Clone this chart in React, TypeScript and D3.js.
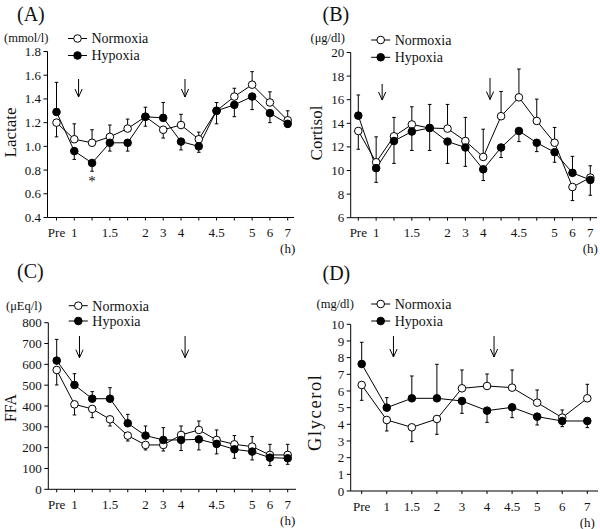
import React from 'react';
import * as d3 from 'd3';

const FONT = "'Liberation Serif','Times New Roman',Times,serif";

// Time points
const timeKeys14 = ['Pre', '1', '1.25', '1.5', '1.75', '2', '3', '4', '4.25', '4.5', '4.75', '5', '6', '7'];
const timeLabels14 = ['Pre', '1', '', '1.5', '', '2', '3', '4', '', '4.5', '', '5', '6', '7'];
const timeKeys10 = ['Pre', '1', '1.5', '2', '3', '4', '4.5', '5', '6', '7'];
const timeLabels10 = ['Pre', '1', '1.5', '2', '3', '4', '4.5', '5', '6', '7'];

// (A) Lactate
const lactateTicks = [0.4, 0.6, 0.8, 1.0, 1.2, 1.4, 1.6, 1.8];
const lactateNormoxia = [1.20, 1.06, 1.03, 1.08, 1.15, 1.25, 1.14, 1.18, 1.06, 1.30, 1.42, 1.52, 1.37, 1.22];
const lactateNormoxiaErr = [1.08, 1.19, 1.14, 1.18, 1.23, 1.33, 1.07, 1.27, 1.12, 1.37, 1.49, 1.63, 1.46, 1.30];
const lactateHypoxia = [1.29, 0.96, 0.86, 1.03, 1.03, 1.25, 1.24, 1.04, 1.00, 1.30, 1.35, 1.42, 1.28, 1.19];
const lactateHypoxiaErr = [1.54, 0.89, 0.79, 0.96, 0.96, 1.17, 1.37, 0.97, 0.95, 1.19, 1.25, 1.31, 1.20, 1.16];

// (B) Cortisol
const cortisolTicks = [6, 8, 10, 12, 14, 16, 18, 20];
const cortisolNormoxia = [13.35, 10.7, 12.9, 13.9, 13.6, 13.55, 12.5, 11.15, 14.6, 16.2, 14.2, 12.35, 8.6, 9.4];
const cortisolNormoxiaErr = [11.8, 12.85, 14.5, 15.4, 15.6, 15.6, 14.5, 13.5, 16.7, 18.6, 16.05, 13.65, 7.45, 10.4];
const cortisolHypoxia = [14.65, 10.2, 12.5, 13.3, 13.6, 12.45, 11.95, 10.1, 11.95, 13.35, 12.35, 11.55, 9.8, 9.2];
const cortisolHypoxiaErr = [16.4, 9.0, 10.6, 11.7, 11.7, 10.6, 10.35, 9.15, 11.1, 12.45, 11.6, 10.7, 11.2, 7.9];

// (C) FFA
const ffaTicks = [0, 100, 200, 300, 400, 500, 600, 700, 800];
const ffaNormoxia = [573, 408, 386, 336, 258, 213, 213, 261, 285, 237, 216, 205, 165, 165];
const ffaNormoxiaErr = [501, 357, 344, 304, 232, 189, 184, 304, 328, 285, 258, 253, 216, 216];
const ffaHypoxia = [618, 501, 435, 435, 317, 258, 237, 237, 240, 218, 192, 181, 152, 149];
const ffaHypoxiaErr = [720, 555, 469, 488, 360, 304, 296, 186, 189, 170, 149, 141, 114, 120];

// (D) Glycerol
const glycerolTicks = [0, 1, 2, 3, 4, 5, 6, 7, 8, 9, 10];
const glycerolNormoxia = [6.36, 4.26, 3.82, 4.32, 6.16, 6.3, 6.2, 5.3, 4.4, 5.56];
const glycerolNormoxiaErr = [5.44, 3.6, 2.96, 3.4, 7.26, 7.02, 7.26, 6.06, 4.86, 6.4];
const glycerolHypoxia = [7.62, 5.0, 5.56, 5.56, 5.4, 4.82, 5.02, 4.46, 4.2, 4.2];
const glycerolHypoxiaErr = [8.92, 5.6, 6.9, 7.6, 4.66, 4.12, 4.4, 3.96, 3.86, 3.8];

const panels = [
  {
    tag: '(A)', tagX: 17, tagY: 21, unit: '(mmol/l)', unitX: 4, unitY: 37.5,
    yLabel: 'Lactate', yLabelX: 15.5, yLabelY: 132.5, yLabelLen: 0, yLabelSize: 17, yLabelAdj: '',
    axisX: 47.5, x0: 56.5, x1: 287.7, axisEnd: 294, yTop: 51.5, yBottom: 217.5,
    domain: [0.4, 1.8], ticks: lactateTicks, fmt: d3.format('.1f'),
    keys: timeKeys14, labels: timeLabels14,
    norm: lactateNormoxia, normErr: lactateNormoxiaErr, hyp: lactateHypoxia, hypErr: lactateHypoxiaErr,
    arrows: [{ at: '1', dx: 4.3, y0: 79, y1: 97 }, { at: '4', dx: 4, y0: 79, y1: 97 }],
    legendY: [38.5, 55.5], star: { at: '1.25', y: 186 },
  },
  {
    tag: '(B)', tagX: 322.5, tagY: 21, unit: '(μg/dl)', unitX: 310.5, unitY: 38,
    yLabel: 'Cortisol', yLabelX: 322, yLabelY: 133, yLabelLen: 0, yLabelSize: 17, yLabelAdj: '',
    axisX: 350.7, x0: 358.3, x1: 590.3, axisEnd: 597, yTop: 52.5, yBottom: 217.7,
    domain: [6, 20], ticks: cortisolTicks, fmt: d3.format('d'),
    keys: timeKeys14, labels: timeLabels14,
    norm: cortisolNormoxia, normErr: cortisolNormoxiaErr, hyp: cortisolHypoxia, hypErr: cortisolHypoxiaErr,
    arrows: [{ at: '1', dx: 6, y0: 84, y1: 100 }, { at: '4', dx: 6.8, y0: 78, y1: 99.5 }],
    legendY: [40, 57.3], star: null,
  },
  {
    tag: '(C)', tagX: 17, tagY: 278, unit: '(μEq/l)', unitX: 6, unitY: 305.2,
    yLabel: 'FFA', yLabelX: 15.5, yLabelY: 408, yLabelLen: 28, yLabelSize: 17, yLabelAdj: 'spacingAndGlyphs',
    axisX: 48.3, x0: 56.7, x1: 287.7, axisEnd: 296, yTop: 322.7, yBottom: 489.3,
    domain: [0, 800], ticks: ffaTicks, fmt: d3.format('d'),
    keys: timeKeys14, labels: timeLabels14,
    norm: ffaNormoxia, normErr: ffaNormoxiaErr, hyp: ffaHypoxia, hypErr: ffaHypoxiaErr,
    arrows: [{ at: '1', dx: 5, y0: 336, y1: 357.7 }, { at: '4', dx: 4, y0: 336, y1: 357.7 }],
    legendY: [305.7, 321], star: null,
  },
  {
    tag: '(D)', tagX: 322.5, tagY: 280, unit: '(mg/dl)', unitX: 316.5, unitY: 303.5,
    yLabel: 'Glycerol', yLabelX: 321, yLabelY: 413, yLabelLen: 76, yLabelSize: 18.5, yLabelAdj: 'spacing',
    axisX: 350.7, x0: 361.7, x1: 587.3, axisEnd: 598, yTop: 324.3, yBottom: 491,
    domain: [0, 10], ticks: glycerolTicks, fmt: d3.format('d'),
    keys: timeKeys10, labels: timeLabels10,
    norm: glycerolNormoxia, normErr: glycerolNormoxiaErr, hyp: glycerolHypoxia, hypErr: glycerolHypoxiaErr,
    arrows: [{ at: '1', dx: 6.7, y0: 336, y1: 357 }, { at: '4', dx: 7, y0: 336, y1: 357 }],
    legendY: [304, 321], star: null,
  },
];

function Panel({ p }: { p: any }) {
  const x = d3.scalePoint<string>().domain(p.keys).range([p.x0, p.x1]);
  const y = d3.scaleLinear().domain(p.domain).range([p.yBottom, p.yTop]);
  const line = d3.line<number>().x((_, i) => x(p.keys[i])!).y((d) => y(d));
  const r = 3.8;
  const cap = 1.8;
  const errBars = (vals: number[], tips: number[], key: string) =>
    vals.map((v, i) => {
      const cx = x(p.keys[i])!;
      return (
        <g key={key + i}>
          <line x1={cx} x2={cx} y1={y(v)} y2={y(tips[i])} stroke="#000" strokeWidth={1} />
          <line x1={cx - cap} x2={cx + cap} y1={y(tips[i])} y2={y(tips[i])} stroke="#000" strokeWidth={1} />
        </g>
      );
    });
  const lx = p.axisX + 30;
  return (
    <g fontFamily={FONT} fill="#111">
      <text x={p.tagX} y={p.tagY} fontSize={20}>{p.tag}</text>
      <text x={p.unitX} y={p.unitY} dy="0.35em" fontSize={12.5}>{p.unit}</text>
      <text
        transform={`translate(${p.yLabelX},${p.yLabelY}) rotate(-90)`}
        textAnchor="middle" fontSize={p.yLabelSize}
        {...(p.yLabelLen ? { textLength: p.yLabelLen, lengthAdjust: p.yLabelAdj } : {})}
      >{p.yLabel}</text>
      {/* legend */}
      <line x1={lx - 9.5} x2={lx + 9.5} y1={p.legendY[0]} y2={p.legendY[0]} stroke="#000" />
      <circle cx={lx} cy={p.legendY[0]} r={r} fill="#fff" stroke="#000" />
      <text x={p.axisX + 44} y={p.legendY[0]} dy="0.35em" fontSize={14}>Normoxia</text>
      <line x1={lx - 9.5} x2={lx + 9.5} y1={p.legendY[1]} y2={p.legendY[1]} stroke="#000" />
      <circle cx={lx} cy={p.legendY[1]} r={r} fill="#000" stroke="#000" />
      <text x={p.axisX + 44} y={p.legendY[1]} dy="0.35em" fontSize={14}>Hypoxia</text>
      {/* axes */}
      <line x1={p.axisX} x2={p.axisX} y1={y(p.domain[1])} y2={p.yBottom} stroke="#000" strokeWidth={1} />
      <line x1={p.axisX} x2={p.axisEnd} y1={p.yBottom} y2={p.yBottom} stroke="#000" strokeWidth={1} />
      {p.ticks.map((t: number) => (
        <g key={'yt' + t}>
          <line x1={p.axisX - 4} x2={p.axisX} y1={y(t)} y2={y(t)} stroke="#000" />
          <text x={p.axisX - 6.5} y={y(t)} dy="0.35em" textAnchor="end" fontSize={13}>{p.fmt(t)}</text>
        </g>
      ))}
      {p.keys.map((k: string, i: number) => (
        <g key={'xt' + k}>
          <line x1={x(k)} x2={x(k)} y1={p.yBottom} y2={p.yBottom + 3} stroke="#000" />
          {p.labels[i] && (
            <text x={x(k)} y={p.yBottom + 15} dy="0.35em" textAnchor="middle" fontSize={13}>{p.labels[i]}</text>
          )}
        </g>
      ))}
      <text x={p.x1} y={p.yBottom + 31} dy="0.35em" textAnchor="middle" fontSize={13}>(h)</text>
      {/* arrows */}
      {p.arrows.map((a: any, i: number) => {
        const ax = x(a.at)! + a.dx;
        return (
          <g key={'ar' + i} stroke="#000" strokeWidth={1} fill="none">
            <line x1={ax} x2={ax} y1={a.y0} y2={a.y1} />
            <polyline points={`${ax - 3.6},${a.y1 - 8} ${ax},${a.y1} ${ax + 3.6},${a.y1 - 8}`} />
          </g>
        );
      })}
      {p.star && (
        <text x={x(p.star.at)} y={p.star.y} textAnchor="middle" fontSize={15} fill="#111">*</text>
      )}
      {/* error bars */}
      {errBars(p.norm, p.normErr, 'ne')}
      {errBars(p.hyp, p.hypErr, 'he')}
      {/* lines */}
      <path d={line(p.norm)!} fill="none" stroke="#000" strokeWidth={1} />
      <path d={line(p.hyp)!} fill="none" stroke="#000" strokeWidth={1} />
      {/* markers */}
      {p.norm.map((v: number, i: number) => (
        <circle key={'nc' + i} cx={x(p.keys[i])} cy={y(v)} r={r} fill="#fff" stroke="#000" strokeWidth={1} />
      ))}
      {p.hyp.map((v: number, i: number) => (
        <circle key={'hc' + i} cx={x(p.keys[i])} cy={y(v)} r={r} fill="#000" stroke="#000" strokeWidth={1} />
      ))}
    </g>
  );
}

export default function App() {
  return (
    <svg
      width={600}
      height={529}
      viewBox="0 0 600 529"
      style={{ position: 'absolute', left: 0, top: 0, background: '#fff' }}
    >
      <rect x={0} y={0} width={600} height={529} fill="#fff" />
      {panels.map((p) => (
        <Panel key={p.tag} p={p} />
      ))}
    </svg>
  );
}
